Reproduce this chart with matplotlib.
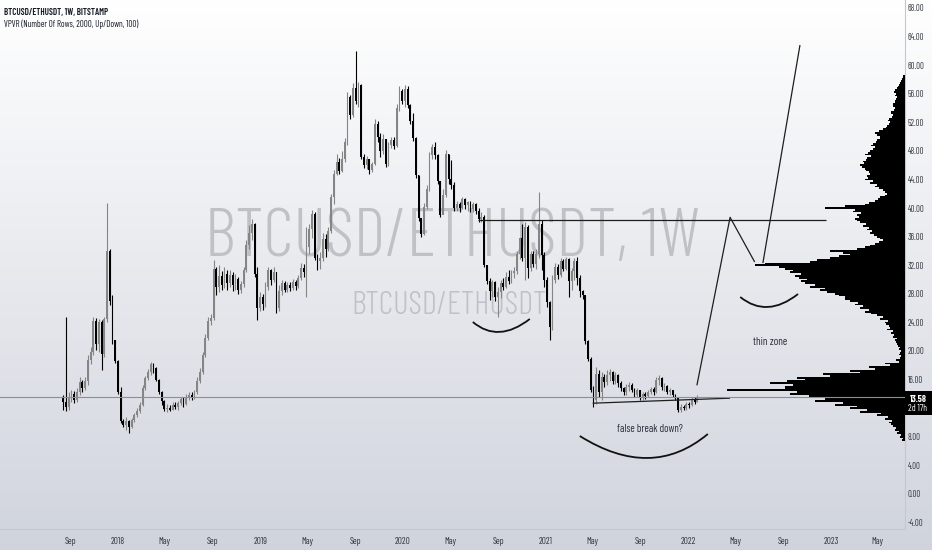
import numpy as np
import matplotlib
matplotlib.use("Agg")
import matplotlib.pyplot as plt
import matplotlib.dates as mdates
from matplotlib.path import Path
from matplotlib.patches import PathPatch, Rectangle
from matplotlib.transforms import blended_transform_factory

# ------------------------------------------------------------------ data
symbol_title = "BTCUSD/ETHUSDT, 1W, BITSTAMP"
indicator_title = "VPVR (Number Of Rows, 2000, Up/Down, 100)"
watermark_big = "BTCUSD/ETHUSDT, 1W"
watermark_small = "BTCUSD/ETHUSDT"

first_week = "2017-08-14"
first_open = 13.5
closes = [
    12.8, 12.2, 13.5, 14.0, 13.2, 14.3, 15.6, 14.8, 15.8, 18.8,
    19.9, 24.2, 21.0, 24.0, 19.6, 24.5, 34.0, 27.0, 21.5, 18.6,
    14.2, 10.2, 9.7, 10.2, 9.4, 10.3, 11.0, 11.6, 12.5, 14.8,
    16.2, 17.0, 18.2, 17.6, 16.0, 14.2, 13.0, 11.9, 12.0, 11.8,
    12.4, 12.1, 12.7, 13.3, 12.6, 13.5, 13.9, 13.4, 14.3, 15.8,
    17.0, 19.5, 21.8, 24.2, 24.6, 31.5, 29.0, 30.5, 29.2, 30.8,
    29.5, 30.6, 29.3, 30.1, 28.6, 29.4, 31.3, 34.8, 36.5, 37.8,
    30.8, 26.0, 27.5, 26.6, 29.0, 31.4, 30.0, 31.0, 26.0, 28.4,
    29.5, 28.6, 29.2, 28.8, 29.6, 29.1, 30.2, 31.6, 31.0, 34.5,
    37.0, 39.2, 33.0, 32.6, 33.0, 35.6, 34.2, 36.8, 41.5, 44.8,
    46.5, 45.2, 46.8, 49.2, 55.5, 53.0, 56.8, 55.0, 57.2, 47.2,
    46.0, 46.8, 45.3, 46.1, 51.8, 50.0, 48.0, 49.6, 46.2, 48.8,
    49.5, 48.7, 54.0, 56.4, 55.0, 56.6, 54.4, 52.2, 49.8, 44.6,
    38.6, 36.4, 40.2, 42.6, 47.4, 48.6, 47.4, 43.8, 39.0, 41.8,
    47.6, 44.0, 43.2, 40.0, 40.6, 40.0, 41.2, 40.4, 40.8, 39.8,
    40.5, 39.6, 38.4, 38.8, 32.0, 29.8, 28.4, 29.6, 27.6, 28.2,
    29.5, 29.0, 30.4, 29.8, 30.9, 31.2, 33.6, 35.8, 33.0, 37.4,
    31.6, 33.6, 32.2, 33.5, 37.8, 33.4, 30.0, 26.8, 23.4, 30.0,
    31.8, 30.6, 32.6, 31.5, 32.8, 29.8, 31.2, 32.6, 30.2, 28.4,
    27.8, 21.4, 18.9, 14.6, 13.2, 16.8, 14.2, 16.4, 15.6, 16.6,
    17.0, 15.8, 16.6, 15.5, 14.8, 14.2, 14.9, 15.3, 14.6, 13.9,
    14.5, 13.4, 14.0, 13.7, 14.3, 14.7, 14.2, 15.9, 16.2, 14.9,
    15.1, 14.3, 14.5, 13.8, 13.6, 11.8, 12.2, 12.0, 12.6, 12.4,
    13.2, 12.9, 13.58,
]
highs = [
    13.8, 24.8, 14.2, 14.6, 14.4, 14.8, 16.4, 16.0, 16.4, 19.4,
    20.5, 24.8, 24.6, 24.5, 24.3, 24.8, 40.7, 34.2, 27.8, 21.6,
    18.8, 15.0, 10.5, 10.8, 10.4, 10.6, 11.3, 12.0, 12.8, 15.2,
    16.5, 17.5, 18.5, 18.3, 17.8, 16.1, 14.4, 13.2, 12.6, 12.5,
    12.8, 12.9, 13.0, 13.6, 13.5, 14.0, 14.3, 14.2, 14.6, 16.4,
    17.6, 19.9, 22.4, 24.8, 25.2, 32.7, 31.8, 32.0, 31.2, 31.7,
    31.4, 31.3, 31.0, 30.8, 30.4, 29.8, 31.8, 35.5, 37.6, 38.4,
    37.9, 31.7, 28.3, 28.0, 29.6, 31.8, 31.5, 31.7, 31.0, 29.2,
    30.0, 29.8, 29.7, 29.6, 30.1, 30.0, 30.6, 32.3, 32.2, 37.3,
    37.8, 39.7, 39.4, 33.6, 33.8, 36.5, 36.3, 37.3, 42.0, 45.3,
    47.5, 47.0, 48.0, 49.8, 56.2, 55.8, 57.5, 62.0, 57.6, 57.4,
    47.5, 47.3, 46.9, 46.5, 52.4, 52.2, 50.5, 50.4, 49.6, 49.2,
    50.0, 49.9, 54.5, 57.0, 56.6, 57.2, 57.0, 54.6, 53.3, 49.9,
    44.6, 38.6, 40.7, 43.2, 47.8, 49.0, 49.2, 47.6, 43.8, 42.6,
    48.1, 47.5, 46.7, 43.6, 41.0, 40.9, 41.5, 41.4, 41.0, 41.0,
    40.8, 40.7, 40.0, 39.4, 39.0, 32.0, 30.2, 30.0, 29.8, 29.0,
    30.0, 30.2, 31.0, 31.3, 31.3, 31.8, 34.0, 36.0, 37.8, 38.0,
    37.6, 34.0, 34.0, 34.2, 42.2, 38.3, 33.8, 30.4, 27.0, 30.6,
    32.3, 32.1, 33.0, 32.8, 33.2, 33.0, 31.6, 33.0, 33.1, 30.6,
    28.6, 27.9, 21.6, 19.2, 15.1, 17.8, 17.4, 17.0, 16.8, 17.3,
    17.5, 17.2, 17.0, 16.8, 15.8, 15.0, 15.4, 15.6, 15.5, 14.8,
    14.8, 14.6, 14.3, 14.2, 14.6, 15.0, 14.9, 16.4, 16.6, 16.3,
    15.5, 15.3, 14.8, 14.6, 14.0, 13.6, 12.6, 12.4, 12.9, 12.8,
    13.5, 13.6, 13.8,
]
lows = [
    11.8, 11.6, 11.8, 12.9, 12.7, 12.9, 13.9, 14.2, 14.6, 15.3,
    18.2, 19.5, 20.2, 19.8, 17.3, 19.2, 24.0, 26.5, 21.0, 18.3,
    14.0, 9.9, 9.3, 9.0, 8.5, 9.2, 10.0, 10.8, 11.3, 12.3,
    14.5, 15.9, 16.6, 16.9, 15.8, 14.0, 12.4, 11.6, 11.5, 11.6,
    11.7, 11.9, 11.8, 12.4, 12.2, 12.5, 13.2, 13.1, 13.3, 14.0,
    15.5, 16.8, 19.2, 21.5, 23.6, 24.3, 27.8, 28.3, 28.5, 28.8,
    28.6, 29.0, 28.4, 28.6, 28.0, 28.1, 29.0, 31.0, 34.2, 35.5,
    30.3, 24.3, 25.6, 25.8, 26.2, 28.6, 29.2, 29.6, 25.3, 25.6,
    27.9, 28.2, 28.3, 28.4, 28.5, 28.6, 28.8, 30.0, 30.3, 27.5,
    33.5, 35.8, 32.7, 31.3, 31.5, 32.6, 33.2, 34.0, 36.5, 40.5,
    44.6, 44.8, 45.0, 46.5, 48.8, 52.4, 52.8, 54.6, 54.2, 46.8,
    45.6, 45.4, 44.8, 45.0, 46.0, 49.3, 47.2, 47.5, 45.7, 45.9,
    48.4, 48.3, 48.6, 53.6, 54.5, 54.2, 54.0, 51.8, 49.4, 44.2,
    38.2, 36.0, 36.2, 39.8, 42.4, 46.8, 46.9, 43.4, 38.7, 39.2,
    41.6, 43.4, 42.6, 39.6, 39.6, 39.5, 39.8, 39.9, 39.6, 39.4,
    39.5, 39.2, 38.0, 38.0, 31.7, 29.4, 27.2, 27.6, 27.0, 24.8,
    27.4, 28.6, 28.8, 29.4, 29.5, 30.2, 30.8, 32.9, 32.6, 30.0,
    30.2, 31.2, 31.7, 31.5, 33.0, 31.3, 29.0, 26.2, 21.5, 23.0,
    29.5, 30.1, 30.4, 31.2, 31.3, 27.5, 28.6, 30.0, 29.2, 27.5,
    27.3, 21.0, 18.6, 14.3, 12.2, 12.6, 13.6, 13.2, 15.0, 15.2,
    15.8, 15.4, 15.4, 15.0, 14.4, 13.9, 13.8, 14.4, 14.3, 13.6,
    13.6, 13.1, 13.2, 13.3, 13.5, 14.0, 13.9, 14.1, 15.3, 14.6,
    14.4, 14.0, 13.8, 13.5, 13.2, 11.4, 11.5, 11.7, 11.8, 12.0,
    12.3, 12.6, 12.8,
]
last_price = 13.58
countdown = "2d 17h"

# volume profile: one row every 0.25 starting at 7.5
vp_first_row = 7.5
vp_row_step = 0.25
vp_volume = [
    3, 2, 5, 4, 8, 6, 10, 9, 12, 14, 16, 13, 20, 17, 28, 24, 45, 38, 55, 48,
    70, 62, 90, 80, 105, 96, 115, 108, 178, 120, 120, 112, 135, 118, 100, 108, 75, 82, 45, 55,
    30, 36, 15, 20, 6, 9, 5, 4, 6, 5, 4, 6, 5, 7, 8, 9, 10, 8, 12, 11,
    14, 12, 18, 15, 16, 19, 20, 17, 25, 22, 28, 34, 40, 36, 45, 42, 50, 47, 55, 60,
    60, 66, 70, 78, 85, 80, 95, 90, 100, 104, 98, 106, 110, 104, 115, 112, 120, 126, 150, 140,
    95, 88, 75, 66, 55, 62, 75, 48, 40, 35, 30, 26, 22, 25, 28, 31, 35, 33, 38, 36,
    42, 39, 45, 48, 50, 46, 48, 44, 52, 50, 80, 60, 40, 36, 30, 27, 25, 20, 18, 20,
    22, 26, 30, 28, 35, 32, 40, 37, 38, 35, 36, 39, 40, 43, 45, 41, 42, 39, 38, 34,
    40, 37, 35, 32, 30, 34, 32, 29, 28, 25, 25, 28, 30, 26, 22, 19, 18, 16, 15, 17,
    16, 13, 12, 14, 14, 11, 10, 12, 12, 10, 10, 9, 8, 10, 9, 11, 10, 8, 7, 6,
    5, 4, 3, 2, 2,
]

y_ticks = [-4, 0, 4, 8, 16, 20, 24, 28, 32, 36, 40, 44, 48, 52, 56, 60, 64, 68]
x_tick_dates = ["2017-09-01", "2018-01-01", "2018-05-01", "2018-09-01", "2019-01-01",
                "2019-05-01", "2019-09-01", "2020-01-01", "2020-05-01", "2020-09-01",
                "2021-01-01", "2021-05-01", "2021-09-01", "2022-01-01", "2022-05-01",
                "2022-09-01", "2023-01-01", "2023-05-01"]
x_tick_labels = ["Sep", "2018", "May", "Sep", "2019", "May", "Sep", "2020", "May",
                 "Sep", "2021", "May", "Sep", "2022", "May", "Sep", "2023", "May"]
x_range = ("2017-03-05", "2023-07-10")
y_range = (-4.9, 69.1)

# drawings (date, price)
resistance = [("2020-07-11", 38.3), ("2022-12-19", 38.3)]
support = [("2021-05-01", 12.7), ("2022-04-18", 13.4)]
projection_a = [("2022-01-23", 15.2), ("2022-04-18", 38.7), ("2022-06-20", 32.45)]
projection_b = [("2022-07-11", 32.3), ("2022-10-14", 62.8)]
arcs = [
    [("2020-06-28", 24.06), ("2020-09-05", 22.66), ("2020-11-21", 24.48)],
    [("2022-05-14", 27.55), ("2022-07-24", 26.15), ("2022-10-09", 27.97)],
    [("2021-03-29", 8.11), ("2021-09-19", 5.03), ("2022-02-20", 8.39)],
]
notes = [("false break down?", "2021-09-24", 9.1), ("thin zone", "2022-07-30", 21.26)]

# ------------------------------------------------------------------ fonts
COND = ["Barlow Condensed", "DejaVu Sans"]
plt.rcParams["font.family"] = COND

# ------------------------------------------------------------------ figure
W, H = 932, 550
fig = plt.figure(figsize=(W / 100, H / 100), dpi=100)

bg = fig.add_axes([0, 0, 1, 1], zorder=-10)
g = np.linspace(0, 1, 256)[:, None, None]
top_c = np.array([1.0, 1.0, 1.0])
bot_c = np.array([0.815, 0.83, 0.865])
bg.imshow(top_c + (bot_c - top_c) * g, aspect="auto", extent=[0, 1, 0, 1], origin="upper")
bg.set_axis_off()

plot_w, plot_h = 905, 529
ax = fig.add_axes([0, 1 - plot_h / H, plot_w / W, plot_h / H])
ax.patch.set_visible(False)
ax.set_xlim(mdates.datestr2num(x_range[0]), mdates.datestr2num(x_range[1]))
ax.set_ylim(*y_range)

# candles
n = len(closes)
c = np.array(closes)
hi = np.array(highs)
lo = np.array(lows)
o = np.r_[first_open, c[:-1]]
dates = mdates.date2num(np.datetime64(first_week) + np.arange(n) * np.timedelta64(7, "D"))
up = c >= o
cols = np.where(up, "#858585", "#000000")
ax.vlines(dates, lo, hi, colors=cols, lw=0.8, zorder=3)
ax.bar(dates, np.maximum(np.abs(c - o), 0.08), bottom=np.minimum(o, c), width=4.6,
       color=cols, lw=0, zorder=4)

# watermarks
wm_col = "#bfc1c7"
t_big = ax.text(452 / plot_w, 1 - 256 / plot_h, watermark_big, transform=ax.transAxes,
                ha="center", va="baseline", color=wm_col, fontsize=40, zorder=1,
                fontweight=300)
t_small = ax.text(449 / plot_w, 1 - 314 / plot_h, watermark_small, transform=ax.transAxes,
                  ha="center", va="baseline", color=wm_col, fontsize=16, zorder=1,
                  fontweight=300)

# drawings
def dn(pts):
    return [mdates.datestr2num(d) for d, _ in pts], [p for _, p in pts]

line_col = "#1e1e1e"
for seg in (resistance, support, projection_a, projection_b):
    xs, ys = dn(seg)
    ax.plot(xs, ys, color=line_col, lw=0.9, zorder=5, solid_capstyle="butt")
for arc in arcs:
    xs, ys = dn(arc)
    p0 = np.array([xs[0], ys[0]]); pm = np.array([xs[1], ys[1]]); p2 = np.array([xs[2], ys[2]])
    ctrl = 2 * pm - (p0 + p2) / 2
    path = Path([p0, ctrl, p2], [Path.MOVETO, Path.CURVE3, Path.CURVE3])
    ax.add_patch(PathPatch(path, fill=False, ec="#111111", lw=1.3, zorder=5))
note_texts = []
for txt, d, p in notes:
    note_texts.append(ax.text(mdates.datestr2num(d), p, txt, ha="center", va="center",
                              color="#2a2e39", fontsize=7.5, zorder=6, fontweight=400))

# volume profile
ax_vp = ax.twiny()
ax_vp.patch.set_visible(False)
vp_levels = vp_first_row + vp_row_step * np.arange(len(vp_volume))
ax_vp.barh(vp_levels, vp_volume, height=vp_row_step, color="black", lw=0, zorder=2)
ax_vp.set_xlim(max(vp_volume) * plot_w / 178.0, 0)
ax_vp.set_xticks([])
for s in ax_vp.spines.values():
    s.set_visible(False)
ax_vp.axhline(last_price, color="#8f8f8f", lw=0.8, zorder=3)

# axes styling
for s in ("top", "left"):
    ax.spines[s].set_visible(False)
for s in ("right", "bottom"):
    ax.spines[s].set_color("#c4c7ce")
    ax.spines[s].set_linewidth(0.8)
ax.yaxis.tick_right()
ax.set_yticks(y_ticks)
ax.set_yticklabels([f"{v:.2f}" for v in y_ticks])
ax.set_xticks([mdates.datestr2num(d) for d in x_tick_dates])
ax.set_xticklabels(x_tick_labels)
ax.tick_params(axis="y", length=0, pad=2, labelsize=6.5, labelcolor="#2f333c")
ax.tick_params(axis="x", length=0, pad=6, labelsize=6.5, labelcolor="#2f333c")

# last price box
tr = blended_transform_factory(ax.transAxes, ax.transData)
ax.add_patch(Rectangle((1.0, 11.05), 27 / plot_w, 3.36, transform=tr, clip_on=False,
                       facecolor="black", edgecolor="none", zorder=10))
t_p1 = ax.text(1.0 + 13.0 / plot_w, 13.25, f"{last_price:.2f}", transform=tr, ha="center",
               va="center", color="white", fontsize=7, zorder=11, clip_on=False,
               fontweight="bold")
t_p2 = ax.text(1.0 + 13.0 / plot_w, 11.9, countdown, transform=tr, ha="center",
               va="center", color="white", fontsize=7, zorder=11, clip_on=False)

# titles
t_title = fig.text(4 / W, 1 - 12 / H, symbol_title, ha="left", va="center",
                   fontsize=6, fontweight=600, color="#131722")
t_ind = fig.text(4 / W, 1 - 24 / H, indicator_title, ha="left", va="center",
                 fontsize=6, color="#131722")

# ------------------------------------------------------------------ fit text widths
r = fig.canvas.get_renderer()

def fit(t, target):
    w = t.get_window_extent(renderer=r).width
    if w > 0:
        t.set_fontsize(t.get_fontsize() * target / w)

fit(t_big, 495)
fit(t_small, 195)
fit(t_title, 104)
fit(t_ind, 134)
fit(note_texts[0], 66)
fit(note_texts[1], 35)
fit(t_p1, 17)
fit(t_p2, 19)

probe = fig.text(0, 0, "68.00", fontsize=10)
wy = probe.get_window_extent(renderer=r).width
probe.set_text("2018")
wx = probe.get_window_extent(renderer=r).width
probe.remove()
ax.tick_params(axis="y", labelsize=10 * 16.5 / wy)
ax.tick_params(axis="x", labelsize=10 * 14.0 / wx)

fig.savefig("out.png", dpi=100)
